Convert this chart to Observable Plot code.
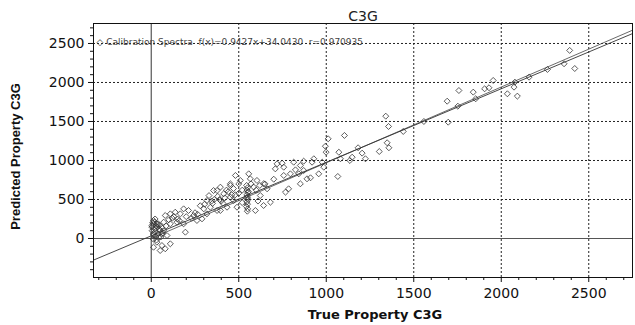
<!DOCTYPE html>
<html><head><meta charset="utf-8">
<script src="https://cdn.jsdelivr.net/npm/d3@7"></script>
<script src="https://cdn.jsdelivr.net/npm/@observablehq/plot@0.6"></script>
<style>
body{margin:0;background:#fff;}
svg{font-family:"DejaVu Sans",sans-serif;}
</style></head><body>
<div id="chart"></div>
<script>
const titleText = "C3G";
const xLabel = "True Property C3G";
const yLabel = "Predicted Property C3G";
const legendText = "\u25C7 Calibration Spectra  f(x)=0.9427x+34.0430  r=0.970935";
const slope = 0.9427, intercept = 34.0430, rValue = 0.970935;
const lineEnds = [-330, 2750];
const refEnds = [0, 2750];
const majorTicks = [0, 500, 1000, 1500, 2000, 2500];
const gridTicks = [500, 1000, 1500, 2000, 2500];
const xMinor = [-300,-200,-100,100,200,300,400,600,700,800,900,1100,1200,1300,1400,1600,1700,1800,1900,2100,2200,2300,2400,2600,2700];
const yMinor = [-400,-300,-200,-100,100,200,300,400,600,700,800,900,1100,1200,1300,1400,1600,1700,1800,1900,2100,2200,2300,2400,2600,2700];

const trueVals = [
2391,2420,2359,2264,2159,2078,2073,2035,2092,1954,1930,1905,1840,1854,1758,1691,1752,1697,1558,1440,
1340,1356,1348,1358,1303,1104,1182,1205,1224,1148,1135,1011,995,999,1072,1081,977,986,929,919,871,814,748,824,843,957,910,1066,757,
719,757,852,871,795,709,890,852,785,767,642,662,604,557,566,509,481,452,395,356,318,623,681,642,595,471,433,376,
545,550,548,552,546,550,553,547,550,544,551,549,555,543,
452,414,376,452,490,395,338,318,290,261,242,213,185,166,137,109,80,71,109,147,185,195,32,23,51,13,42,61,90,32,61,109,13,51,80,4,13,10,
20,35,5,45,60,25,70,15,40,55,
250,300,350,400,420,380,280,230,200,150,120,330,360,440,470,500,520,500,480,600,650,700,620,
8,18,28,38,48,12,30,65,85,22,100,130,160,3,
410,430,390,460,345,305,265,520,585,610,570
];
const predVals = [
2411,2179,2240,2167,2068,2004,1940,1855,1825,2026,1932,1919,1876,1791,1897,1760,1696,1491,1500,1372,
1568,1436,1227,1163,1115,1321,1163,1094,1022,1042,1000,1278,1183,1106,1106,1022,978,914,1022,978,991,978,965,880,829,829,778,795,808,
957,914,936,872,829,893,765,701,637,594,701,637,744,829,765,744,808,701,658,615,487,551,465,423,359,487,401,359,
680,650,620,590,560,530,500,470,440,410,380,350,600,520,
679,573,615,530,401,359,401,316,252,231,295,359,380,316,337,316,295,209,188,209,188,81,188,124,103,60,17,60,38,-47,-90,-68,-112,-154,-132,145,231,-4,
80,150,100,120,140,30,100,180,60,20,
330,380,450,480,520,540,420,260,280,250,260,550,500,600,640,580,620,700,560,620,700,760,680,
200,210,160,190,170,45,-20,70,160,250,240,280,230,165,
450,620,500,560,480,440,310,460,660,480,700
];

const pts = trueVals.map((t, i) => ({t, p: predVals[i]}));
const fitLine = lineEnds.map(x => ({x, y: slope * x + intercept}));
const refLine = refEnds.map(x => ({x, y: rValue * x}));
const fmt = d => String(d);

const chart = Plot.plot({
  width: 635, height: 325,
  marginLeft: 93, marginRight: 3, marginTop: 23, marginBottom: 48,
  style: {fontFamily: "DejaVu Sans, sans-serif", fontSize: "14px", color: "#111", overflow: "visible"},
  x: {domain: [-330, 2750]},
  y: {domain: [-500, 2756]},
  marks: [
    Plot.ruleX(gridTicks, {stroke: "#222", strokeDasharray: "2,2", strokeWidth: 1}),
    Plot.ruleY(gridTicks, {stroke: "#222", strokeDasharray: "2,2", strokeWidth: 1}),
    Plot.ruleX([0], {stroke: "#555", strokeWidth: 1.2}),
    Plot.ruleY([0], {stroke: "#555", strokeWidth: 1.2}),
    Plot.text([legendText], {frameAnchor: "top-left", dx: 3, dy: 15, fontSize: 9, fill: "#444"}),
    Plot.line(refLine, {x: "x", y: "y", stroke: "#444", strokeWidth: 0.8}),
    Plot.line(fitLine, {x: "x", y: "y", stroke: "#333", strokeWidth: 0.9}),
    Plot.dot(pts, {x: "t", y: "p", symbol: "diamond2", r: 2.7, stroke: "#333", strokeWidth: 0.8, fill: "none"}),
    Plot.frame({stroke: "#111"}),
    Plot.axisX(majorTicks, {tickSize: 5, tickPadding: 6, label: null, fontSize: 14, tickFormat: fmt}),
    Plot.axisX(xMinor, {tickSize: 3, tickFormat: () => "", label: null}),
    Plot.axisY(majorTicks, {tickSize: 5, tickPadding: 4, label: null, fontSize: 14, tickFormat: fmt}),
    Plot.axisY(yMinor, {tickSize: 3, tickFormat: () => "", label: null}),
    Plot.text([titleText], {frameAnchor: "top", dy: -12, fontSize: 14, fill: "#222"}),
    Plot.text([xLabel], {frameAnchor: "bottom", dx: 12, dy: 41, fontSize: 13, fontWeight: "bold", fill: "#111"}),
    Plot.text([yLabel], {frameAnchor: "left", dx: -78, dy: 6, rotate: -90, textAnchor: "middle", fontSize: 13, fontWeight: "bold", fill: "#111", fontFamily: "Liberation Sans, Arial, sans-serif"})
  ]
});
document.getElementById("chart").appendChild(chart);
</script>
</body></html>
